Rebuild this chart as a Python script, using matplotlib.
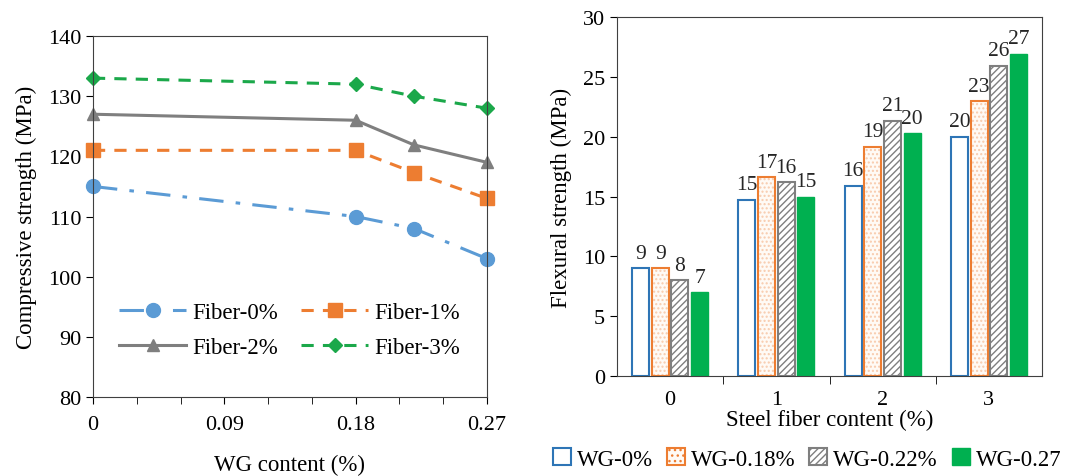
import matplotlib
matplotlib.use("Agg")
import matplotlib.pyplot as plt
import numpy as np
from matplotlib.patches import Patch

plt.rcParams['font.family'] = ['Liberation Serif', 'DejaVu Serif']
plt.rcParams['font.size'] = 16

# ---- Left chart data ----
wg_content = [0, 0.18, 0.22, 0.27]
fiber_labels = ['Fiber-0%', 'Fiber-1%', 'Fiber-2%', 'Fiber-3%']
fiber0 = [115, 110, 108, 103]
fiber1 = [121, 121, 117.3, 113]
fiber2 = [127, 126, 121.9, 119]
fiber3 = [133, 132, 130, 128]

# ---- Right chart data ----
steel_fiber = ['0', '1', '2', '3']
wg_labels = ['WG-0%', 'WG-0.18%', 'WG-0.22%', 'WG-0.27']
wg0 = [9, 14.74, 15.9, 20.0]
wg018 = [9, 16.6, 19.17, 22.97]
wg022 = [8, 16.19, 21.35, 25.9]
wg027 = [7, 14.99, 20.3, 26.93]

fig = plt.figure(figsize=(10.66, 4.77), dpi=100)

# ---------------- Left ----------------
ax1 = fig.add_axes([0.0872, 0.1656, 0.3696, 0.7568])
styles = [
    dict(color='#5B9BD5', linestyle=(0, (8, 4, 1.5, 4)), marker='o', markersize=10),
    dict(color='#ED7D31', linestyle=(0, (4, 3)), marker='s', markersize=10),
    dict(color='#7F7F7F', linestyle='-', marker='^', markersize=9),
    dict(color='#1BA84A', linestyle=(0, (4, 3)), marker='D', markersize=7),
]
lines = []
for ys, lab, st in zip([fiber0, fiber1, fiber2, fiber3], fiber_labels, styles):
    ln, = ax1.plot(wg_content, ys, label=lab, linewidth=2.2, clip_on=False, **st)
    lines.append(ln)

ax1.set_xlim(0, 0.27)
ax1.set_ylim(80, 140)
ax1.set_xticks([0, 0.09, 0.18, 0.27])
ax1.set_xticklabels(['0', '0.09', '0.18', '0.27'])
ax1.set_xticks(np.arange(0, 0.2701, 0.03), minor=True)
ax1.set_yticks(np.arange(80, 141, 10))
ax1.tick_params(axis='both', which='major', direction='out', length=5, labelsize=16)
ax1.tick_params(axis='x', which='major', pad=8)
ax1.tick_params(axis='x', which='minor', direction='out', length=5)
ax1.set_xlabel('WG content (%)', fontsize=16.5, labelpad=14)
ax1.set_ylabel('Compressive strength (MPa)', fontsize=16.5, labelpad=8)
for s in ax1.spines.values():
    s.set_color('#404040')
order = [0, 2, 1, 3]
ax1.legend([lines[i] for i in order], [fiber_labels[i] for i in order],
           loc='center', bbox_to_anchor=(0.5, 0.185), ncol=2, frameon=False,
           handlelength=2.9, columnspacing=1.0, handletextpad=0.3,
           labelspacing=0.6, fontsize=16.5)

# ---------------- Right ----------------
ax2 = fig.add_axes([0.5788, 0.2096, 0.3987, 0.7527])
x = np.arange(len(steel_fiber))
w = 0.16
sp = 0.185

b0 = ax2.bar(x - 1.5 * sp, wg0, w, facecolor='white', edgecolor='#2E75B6', linewidth=1.5)
ax2.bar(x - 0.5 * sp, wg018, w, facecolor='#fffaf5', edgecolor='#F8CBAD', hatch='....', linewidth=0)
b1 = ax2.bar(x - 0.5 * sp, wg018, w, fill=False, edgecolor='#ED7D31', linewidth=1.5)
b2 = ax2.bar(x + 0.5 * sp, wg022, w, facecolor='white', edgecolor='#7F7F7F', hatch='/////', linewidth=1.5)
b3 = ax2.bar(x + 1.5 * sp, wg027, w, facecolor='#00B050', edgecolor='#00B050', linewidth=1.0)

for bc in [b0, b1, b2, b3]:
    ax2.bar_label(bc, fmt='%.0f', padding=4, fontsize=15.5, color='#262626')

ax2.set_xlim(-0.5, 3.5)
ax2.set_ylim(0, 30)
ax2.set_xticks(x)
ax2.set_xticklabels(steel_fiber)
ax2.set_xticks([0.5, 1.5, 2.5], minor=True)
ax2.tick_params(axis='x', which='major', length=0, pad=10, labelsize=16)
ax2.tick_params(axis='x', which='minor', direction='out', length=6)
ax2.tick_params(axis='y', which='major', direction='out', length=5, labelsize=16)
ax2.set_yticks(np.arange(0, 31, 5))
ax2.set_xlabel('Steel fiber content (%)', fontsize=16.5, labelpad=0)
ax2.set_ylabel('Flexural strength (MPa)', fontsize=16.5, labelpad=8)
for s in ax2.spines.values():
    s.set_color('#404040')

handles = [
    Patch(facecolor='white', edgecolor='#2E75B6', linewidth=1.5),
    Patch(facecolor='#fffaf5', edgecolor='#ED7D31', hatch='...', linewidth=1.5),
    Patch(facecolor='white', edgecolor='#7F7F7F', hatch='/////', linewidth=1.5),
    Patch(facecolor='#00B050', edgecolor='#00B050'),
]
fig.legend(handles, wg_labels, loc='center', bbox_to_anchor=(0.757, 0.036), ncol=4,
           frameon=False, handlelength=0.8, handleheight=0.8, columnspacing=0.6,
           handletextpad=0.25, fontsize=16.5)

fig.savefig('out.png', dpi=100)
